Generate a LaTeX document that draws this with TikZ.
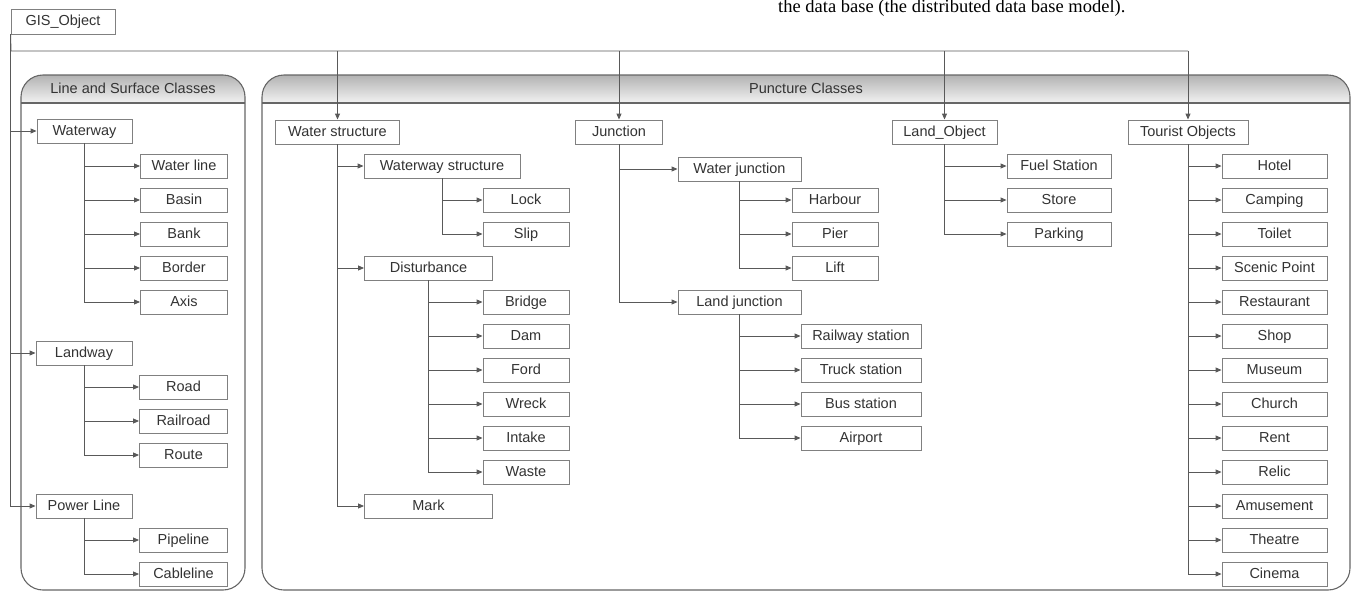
\documentclass[tikz,border=0pt]{standalone}
\usepackage{fontspec}
\setmainfont{Liberation Sans}
\newfontfamily\capserif{Liberation Serif}
\usetikzlibrary{arrows.meta}
\begin{document}
\begin{tikzpicture}[x=1pt,y=-1pt,
  bx/.style={draw=black!50, line width=0.9pt, fill=white, minimum height=24pt,
    inner sep=0pt, text height=10.5pt, text depth=2.5pt, text=black!80,
    font=\fontsize{14.5}{16}\selectfont},
  conn/.style={draw=black!65, line width=0.9pt},
  arr/.style={conn, -{Triangle[length=6pt,width=5pt]}},
  panel/.style={draw=black!60, line width=1.1pt, rounded corners=22pt},
  hdr/.style={top color=black!30, bottom color=black!5},
  hdrtext/.style={text=black!80, text height=10.5pt, text depth=2.5pt,
    font=\fontsize{14.5}{16}\selectfont}]
\useasboundingbox (0,0) rectangle (1353,590);

% caption fragment at top
\node[anchor=base west, inner sep=0pt, font=\capserif\fontsize{18.5}{20}\selectfont] (caption) at (778,12) {the data base (the distributed data base model).};

% panels
\begin{scope}
  \clip[rounded corners=22pt] (21,75) rectangle (245,590);
  \shade[hdr] (21,75) rectangle (245,103);
\end{scope}
\begin{scope}
  \clip[rounded corners=22pt] (262,75) rectangle (1350,590);
  \shade[hdr] (262,75) rectangle (1350,103);
\end{scope}
\draw[panel] (21,75) rectangle (245,590);
\draw[panel] (262,75) rectangle (1350,590);
\draw[draw=black!60, line width=1.5pt] (21,103) -- (245,103);
\draw[draw=black!60, line width=1.5pt] (262,103) -- (1350,103);
\node[hdrtext] (hdrL) at (133,89) {Line and Surface Classes};
\node[hdrtext] (hdrP) at (806,89) {Puncture Classes};

% root
\node[bx, minimum width=104pt, minimum height=25pt] (gis) at (63,21.5) {GIS\_Object};

% left panel
\node[bx, minimum width=95pt] (waterway) at (84.5,131) {Waterway};
\node[bx, minimum width=87pt] (waterline) at (184,166) {Water line};
\node[bx, minimum width=87pt] (basin) at (184,200) {Basin};
\node[bx, minimum width=87pt] (bank) at (184,234) {Bank};
\node[bx, minimum width=87pt] (border) at (184,268) {Border};
\node[bx, minimum width=87pt] (axis) at (184,302) {Axis};
\node[bx, minimum width=96pt] (landway) at (84,353) {Landway};
\node[bx, minimum width=88pt] (road) at (183.5,387) {Road};
\node[bx, minimum width=88pt] (railroad) at (183.5,421) {Railroad};
\node[bx, minimum width=88pt] (route) at (183.5,455) {Route};
\node[bx, minimum width=96pt] (powerline) at (84,506) {Power Line};
\node[bx, minimum width=88pt] (pipeline) at (183.5,540) {Pipeline};
\node[bx, minimum width=88pt] (cableline) at (183.5,574) {Cableline};

% puncture: water structure
\node[bx, minimum width=124pt] (wstruct) at (337.5,132) {Water structure};
\node[bx, minimum width=156pt] (wwstruct) at (442,166) {Waterway structure};
\node[bx, minimum width=86pt] (lock) at (526,200) {Lock};
\node[bx, minimum width=86pt] (slip) at (526,234) {Slip};
\node[bx, minimum width=128pt] (disturb) at (428.5,268) {Disturbance};
\node[bx, minimum width=86pt] (bridge) at (526,302) {Bridge};
\node[bx, minimum width=86pt] (dam) at (526,336) {Dam};
\node[bx, minimum width=86pt] (ford) at (526,370) {Ford};
\node[bx, minimum width=86pt] (wreck) at (526,404) {Wreck};
\node[bx, minimum width=86pt] (intake) at (526,438) {Intake};
\node[bx, minimum width=86pt] (waste) at (526,472) {Waste};
\node[bx, minimum width=128pt] (mark) at (428.5,506) {Mark};

% junction
\node[bx, minimum width=87pt] (junction) at (619,132) {Junction};
\node[bx, minimum width=123pt] (wjunc) at (739.5,169) {Water junction};
\node[bx, minimum width=86pt] (harbour) at (835,200) {Harbour};
\node[bx, minimum width=86pt] (pier) at (835,234) {Pier};
\node[bx, minimum width=86pt] (lift) at (835,268) {Lift};
\node[bx, minimum width=123pt] (ljunc) at (739.5,302) {Land junction};
\node[bx, minimum width=120pt] (railst) at (861,336) {Railway station};
\node[bx, minimum width=120pt] (truckst) at (861,370) {Truck station};
\node[bx, minimum width=120pt] (busst) at (861,404) {Bus station};
\node[bx, minimum width=120pt] (airport) at (861,438) {Airport};

% land object
\node[bx, minimum width=105pt] (landobj) at (944.5,132) {Land\_Object};
\node[bx, minimum width=104pt] (fuel) at (1059,166) {Fuel Station};
\node[bx, minimum width=104pt] (store) at (1059,200) {Store};
\node[bx, minimum width=104pt] (parking) at (1059,234) {Parking};

% tourist objects
\node[bx, minimum width=120pt] (tourist) at (1188,132) {Tourist Objects};
\foreach \n/\t [count=\k from 0] in {hotel/Hotel, camping/Camping, toilet/Toilet,
  scenic/Scenic Point, restaurant/Restaurant, shop/Shop, museum/Museum,
  church/Church, rent/Rent, relic/Relic, amusement/Amusement, theatre/Theatre,
  cinema/Cinema}
  \node[bx, minimum width=105pt] (\n) at (1274.5,166+34*\k) {\t};

% ---- connectors ----
\coordinate (hub) at (11,51);
\draw[conn] (gis.south west) -- (hub) -- (hub -| tourist.north);
\draw[arr] (gis.south west) |- (powerline.west);
\draw[arr] (gis.south west |- waterway.west) -- (waterway.west);
\draw[arr] (gis.south west |- landway.west) -- (landway.west);
\foreach \n in {wstruct,junction,landobj,tourist}
  \draw[arr] (hub -| \n.north) -- (\n.north);

% left panel branches
\foreach \c in {waterline,basin,bank,border}
  \draw[arr] (waterway.south |- \c.west) -- (\c.west);
\draw[arr] (waterway.south) |- (axis.west);
\foreach \c in {road,railroad}
  \draw[arr] (landway.south |- \c.west) -- (\c.west);
\draw[arr] (landway.south) |- (route.west);
\draw[arr] (powerline.south |- pipeline.west) -- (pipeline.west);
\draw[arr] (powerline.south) |- (cableline.west);

% water structure
\foreach \c in {wwstruct,disturb}
  \draw[arr] (wstruct.south |- \c.west) -- (\c.west);
\draw[arr] (wstruct.south) |- (mark.west);
\draw[arr] (wwstruct.south |- lock.west) -- (lock.west);
\draw[arr] (wwstruct.south) |- (slip.west);
\foreach \c in {bridge,dam,ford,wreck,intake}
  \draw[arr] (disturb.south |- \c.west) -- (\c.west);
\draw[arr] (disturb.south) |- (waste.west);

% junction
\draw[arr] (junction.south |- wjunc.west) -- (wjunc.west);
\draw[arr] (junction.south) |- (ljunc.west);
\foreach \c in {harbour,pier}
  \draw[arr] (wjunc.south |- \c.west) -- (\c.west);
\draw[arr] (wjunc.south) |- (lift.west);
\foreach \c in {railst,truckst,busst}
  \draw[arr] (ljunc.south |- \c.west) -- (\c.west);
\draw[arr] (ljunc.south) |- (airport.west);

% land object
\foreach \c in {fuel,store}
  \draw[arr] (landobj.south |- \c.west) -- (\c.west);
\draw[arr] (landobj.south) |- (parking.west);

% tourist
\foreach \c in {hotel,camping,toilet,scenic,restaurant,shop,museum,church,rent,relic,amusement,theatre}
  \draw[arr] (tourist.south |- \c.west) -- (\c.west);
\draw[arr] (tourist.south) |- (cinema.west);
\end{tikzpicture}
\end{document}
